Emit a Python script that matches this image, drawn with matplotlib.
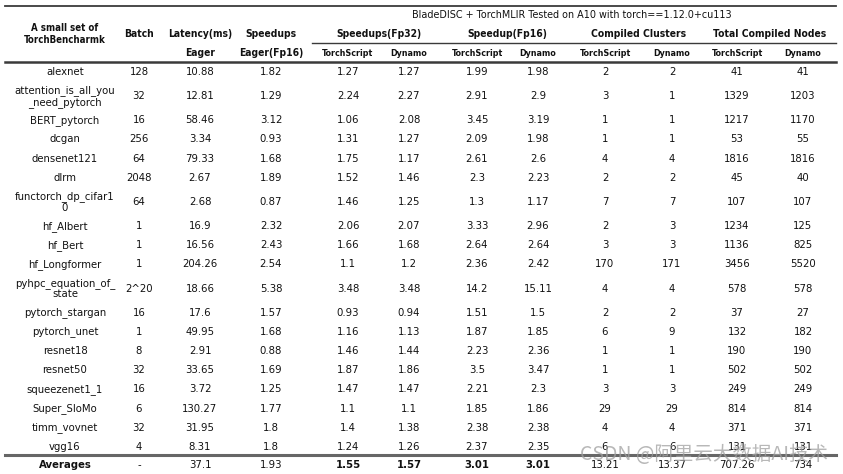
import matplotlib.pyplot as plt

plt.rcParams['font.family'] = ['DejaVu Sans']

# table data
models = ['alexnet', 'attention_is_all_you\n_need_pytorch', 'BERT_pytorch', 'dcgan',
          'densenet121', 'dlrm', 'functorch_dp_cifar1\n0', 'hf_Albert', 'hf_Bert',
          'hf_Longformer', 'pyhpc_equation_of_\nstate', 'pytorch_stargan', 'pytorch_unet',
          'resnet18', 'resnet50', 'squeezenet1_1', 'Super_SloMo', 'timm_vovnet', 'vgg16']
batch = ['128', '32', '16', '256', '64', '2048', '64', '1', '1', '1', '2^20', '16', '1',
         '8', '32', '16', '6', '32', '4']
latency = ['10.88', '12.81', '58.46', '3.34', '79.33', '2.67', '2.68', '16.9', '16.56',
           '204.26', '18.66', '17.6', '49.95', '2.91', '33.65', '3.72', '130.27', '31.95', '8.31']
eager_fp16 = ['1.82', '1.29', '3.12', '0.93', '1.68', '1.89', '0.87', '2.32', '2.43', '2.54',
              '5.38', '1.57', '1.68', '0.88', '1.69', '1.25', '1.77', '1.8', '1.8']
fp32_ts = ['1.27', '2.24', '1.06', '1.31', '1.75', '1.52', '1.46', '2.06', '1.66', '1.1',
           '3.48', '0.93', '1.16', '1.46', '1.87', '1.47', '1.1', '1.4', '1.24']
fp32_dyn = ['1.27', '2.27', '2.08', '1.27', '1.17', '1.46', '1.25', '2.07', '1.68', '1.2',
            '3.48', '0.94', '1.13', '1.44', '1.86', '1.47', '1.1', '1.38', '1.26']
fp16_ts = ['1.99', '2.91', '3.45', '2.09', '2.61', '2.3', '1.3', '3.33', '2.64', '2.36',
           '14.2', '1.51', '1.87', '2.23', '3.5', '2.21', '1.85', '2.38', '2.37']
fp16_dyn = ['1.98', '2.9', '3.19', '1.98', '2.6', '2.23', '1.17', '2.96', '2.64', '2.42',
            '15.11', '1.5', '1.85', '2.36', '3.47', '2.3', '1.86', '2.38', '2.35']
clusters_ts = ['2', '3', '1', '1', '4', '2', '7', '2', '3', '170', '4', '2', '6', '1', '1',
               '3', '29', '4', '6']
clusters_dyn = ['2', '1', '1', '1', '4', '2', '7', '3', '3', '171', '4', '2', '9', '1', '1',
                '3', '29', '4', '6']
nodes_ts = ['41', '1329', '1217', '53', '1816', '45', '107', '1234', '1136', '3456', '578',
            '37', '132', '190', '502', '249', '814', '371', '131']
nodes_dyn = ['41', '1203', '1170', '55', '1816', '40', '107', '125', '825', '5520', '578',
             '27', '182', '190', '502', '249', '814', '371', '131']
averages = ['Averages', '-', '37.1', '1.93', '1.55', '1.57', '3.01', '3.01',
            '13.21', '13.37', '707.26', '734']
avg_bold = [True, False, False, False, True, True, True, True, False, False, False, False]

columns = [models, batch, latency, eager_fp16, fp32_ts, fp32_dyn, fp16_ts, fp16_dyn,
           clusters_ts, clusters_dyn, nodes_ts, nodes_dyn]
col_x = [65, 139, 200, 271, 348, 409, 477, 538, 605, 672, 737, 803]

W, H = 843, 474
fig = plt.figure(figsize=(W / 100, H / 100), dpi=100)
ax = fig.add_axes([0, 0, 1, 1])
ax.set_xlim(0, W)
ax.set_ylim(H, 0)
ax.axis('off')

line_c = '#3a3a3a'
txt_c = '#111111'
fs = 7.3
hfs = 7.4
head = dict(ha='center', va='center', fontweight='bold', fontstretch='condensed',
            color=txt_c)

# rules
ax.plot([5, 836], [6, 6], color=line_c, lw=1.3)
ax.plot([312, 836], [43, 43], color=line_c, lw=1.0)
ax.plot([5, 836], [62, 62], color=line_c, lw=1.8)

# header
ax.text(572, 15, 'BladeDISC + TorchMLIR Tested on A10 with torch==1.12.0+cu113',
        ha='center', va='center', fontsize=6.9, color=txt_c)
ax.text(col_x[0], 34, 'A small set of\nTorchBencharmk', fontsize=6.9,
        linespacing=1.15, **head)
top_heads = [('Batch', col_x[1]), ('Latency(ms)', col_x[2]), ('Speedups', col_x[3]),
             ('Speedups(Fp32)', (col_x[4] + col_x[5]) / 2),
             ('Speedup(Fp16)', (col_x[6] + col_x[7]) / 2),
             ('Compiled Clusters', (col_x[8] + col_x[9]) / 2),
             ('Total Compiled Nodes', (col_x[10] + col_x[11]) / 2)]
for label, x in top_heads:
    ax.text(x, 34, label, fontsize=hfs, **head)
ax.text(col_x[2], 53, 'Eager', fontsize=hfs, **head)
ax.text(col_x[3], 53, 'Eager(Fp16)', fontsize=hfs, **head)
for i in range(4, 12):
    sub = 'TorchScript' if i % 2 == 0 else 'Dynamo'
    ax.text(col_x[i], 53, sub, fontsize=6.4, **head)

# body rows
y = 62.5
for r in range(len(models)):
    h = 29 if '\n' in models[r] else 19.2
    yc = y + h / 2
    for c, col in enumerate(columns):
        ax.text(col_x[c], yc, col[r], ha='center', va='center', fontsize=fs,
                color=txt_c, linespacing=1.1)
    y += h

ax.plot([5, 836], [455, 455], color='#666666', lw=2.2)
for c, val in enumerate(averages):
    ax.text(col_x[c], 465, val, ha='center', va='center', fontsize=fs, color=txt_c,
            fontweight='bold' if avg_bold[c] else 'normal')

# watermark
ax.text(704, 454, 'CSDN @阿里云大数据AI技术', ha='center', va='center', fontsize=14,
        color='#a0a0a0', alpha=0.75, family=['Noto Sans CJK SC', 'DejaVu Sans'])

fig.savefig('out.png', dpi=100)
